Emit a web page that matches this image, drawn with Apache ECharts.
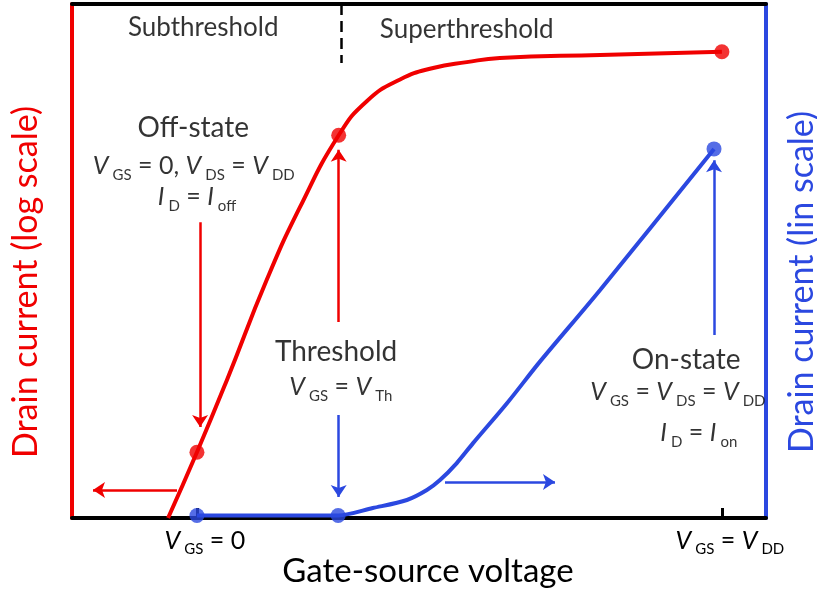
<!DOCTYPE html>
<html>
<head>
<meta charset="utf-8">
<title>MOSFET transfer characteristic</title>
<script src="https://cdn.jsdelivr.net/npm/echarts@6/dist/echarts.min.js"></script>
<style>
  html, body { margin: 0; padding: 0; background: #fff; }
  #chartBox { width: 817px; height: 593px; }
</style>
</head>
<body>
<div id="chartBox"></div>
<script>
// gate-source voltage in V (V_DD = 1 V)
var redVgs = [-0.055, 0.0, 0.057, 0.133, 0.196, 0.27, 0.324, 0.387, 0.45, 0.514, 0.577, 0.768, 1.0];
// drain current on the log axis, A
var redId = [1e-12, 1.9e-11, 4.8e-10, 4.3e-8, 1.1e-6, 2.8e-5, 1.3e-4, 3.4e-4, 5.7e-4, 7.4e-4, 8.9e-4, 1.02e-3, 1.18e-3];

var blueVgs = [0.0, 0.12, 0.269, 0.335, 0.400, 0.438, 0.463, 0.495, 0.526, 0.591, 0.653, 0.768, 0.985];
// drain current on the lin axis, mA
var blueId = [0.008, 0.008, 0.008, 0.031, 0.056, 0.087, 0.118, 0.171, 0.233, 0.358, 0.486, 0.710, 1.149];

// marked states: off, threshold, on
var redKeyVgs = [0.0, 0.27, 1.0];
var redKeyId = [1.9e-11, 2.8e-5, 1.18e-3];
var blueKeyVgs = [0.0, 0.269, 0.985];
var blueKeyId = [0.008, 0.008, 1.149];

var xTickValues = [0, 1];
var xTickLabels = ['{i|V}{s|GS}{n| = 0}', '{i|V}{s|GS}{n| = }{i|V}{s|DD}'];

// arrows [x1, y1, x2, y2] in (V, mA on lin axis)
var redArrows = [[0.006, 0.921, 0.006, 0.283], [0.27, 0.61, 0.27, 1.146], [-0.038, 0.087, -0.198, 0.087]];
var blueArrows = [[0.27, 0.321, 0.27, 0.065], [0.985, 0.57, 0.985, 1.114], [0.4725, 0.112, 0.682, 0.112]];
var thresholdLine = [[0.274, 1.6, 0.274, 1.416]];

// text notes [x, y, text] in (V, mA on lin axis)
var notes = [
  [0.012, 1.525, '{r|Subthreshold}'],
  [0.514, 1.519, '{r|Superthreshold}'],
  [-0.007, 1.214, '{t|Off-state}'],
  [-0.006, 1.096, '{i|V}{s|GS}{n| = 0, }{i|V}{s|DS}{n| = }{i|V}{s|DD}'],
  [0.0, 1.0, '{i|I}{s|D}{n| = }{i|I}{s|off}'],
  [0.265, 0.517, '{t|Threshold}'],
  [0.274, 0.408, '{i|V}{s|GS}{n| = }{i|V}{s|Th}'],
  [0.932, 0.492, '{t|On-state}'],
  [0.916, 0.392, '{i|V}{s|GS}{n| = }{i|V}{s|DS}{n| = }{i|V}{s|DD}'],
  [0.956, 0.265, '{i|I}{s|D}{n| = }{i|I}{s|on}']
];

var RED = '#f00000';
var BLUE = '#2b48e0';
var FONT = 'Lato';

var rich = {
  i: { fontFamily: FONT, fontStyle: 'italic', fontSize: 25, color: '#000' },
  n: { fontFamily: FONT, fontSize: 25, color: '#000' },
  s: { fontFamily: FONT, fontSize: 15, color: '#000', padding: [18, 0, 0, 4] },
  t: { fontFamily: FONT, fontSize: 28, color: '#000' },
  r: { fontFamily: FONT, fontSize: 26, color: '#000' }
};

function pairs(xs, ys) {
  return xs.map(function (x, i) { return [x, ys[i]]; });
}
function arrowData(list) {
  return list.map(function (a) { return { coords: [[a[0], a[1]], [a[2], a[3]]] }; });
}

var chart = echarts.init(document.getElementById('chartBox'));
var option = {
  animation: false,
  textStyle: { fontFamily: FONT },
  grid: { left: 72, right: 51, top: 4, bottom: 75, containLabel: false, outerBoundsMode: 'none' },
  xAxis: [{
    type: 'value', min: -0.238, max: 1.084,
    name: 'Gate-source voltage', nameLocation: 'middle', nameGap: 37, nameMoveOverlap: false,
    nameTextStyle: { fontSize: 33, color: '#000', fontFamily: FONT, padding: [0, 0, 0, 18] },
    axisLine: { show: true, onZero: false, lineStyle: { color: '#000', width: 4 } },
    axisTick: { show: true, inside: true, length: 10, customValues: xTickValues, lineStyle: { color: '#000', width: 3 } },
    axisLabel: {
      show: true, customValues: xTickValues, margin: 6, padding: [0, 0, 0, 16], rich: rich,
      formatter: function (v) { return xTickLabels[xTickValues.indexOf(v)]; }
    },
    splitLine: { show: false }
  }, {
    type: 'value', position: 'top', min: -0.238, max: 1.084,
    axisLine: { show: true, onZero: false, lineStyle: { color: '#000', width: 4 } },
    axisTick: { show: false }, axisLabel: { show: false }, splitLine: { show: false }
  }],
  yAxis: [{
    type: 'log', logBase: 10, min: 1e-12, max: 1e-2, position: 'left',
    name: 'Drain current (log scale)', nameLocation: 'middle', nameRotate: 90, nameGap: 29,
    nameTextStyle: { fontSize: 34, color: RED, fontFamily: FONT, padding: [0, 42, 0, 0] },
    axisLine: { show: true, onZero: false, lineStyle: { color: RED, width: 4 } },
    axisTick: { show: false }, axisLabel: { show: false }, splitLine: { show: false }
  }, {
    type: 'value', min: 0, max: 1.6, position: 'right',
    name: 'Drain current (lin scale)', nameLocation: 'middle', nameRotate: 90, nameGap: 19,
    nameTextStyle: { fontSize: 34, color: BLUE, fontFamily: FONT, padding: [0, 42, 0, 0] },
    axisLine: { show: true, onZero: false, lineStyle: { color: BLUE, width: 4 } },
    axisTick: { show: false }, axisLabel: { show: false }, splitLine: { show: false }
  }],
  series: [{
    name: 'log', type: 'line', xAxisIndex: 0, yAxisIndex: 0,
    data: pairs(redVgs, redId), smooth: 0.5, showSymbol: false, z: 3,
    lineStyle: { color: RED, width: 4 }
  }, {
    name: 'lin', type: 'line', xAxisIndex: 0, yAxisIndex: 1,
    data: pairs(blueVgs, blueId), smooth: 0.3, showSymbol: false, z: 3,
    lineStyle: { color: BLUE, width: 4 }
  }, {
    type: 'scatter', xAxisIndex: 0, yAxisIndex: 0, data: pairs(redKeyVgs, redKeyId),
    symbolSize: 15, itemStyle: { color: RED }, z: 5
  }, {
    type: 'scatter', xAxisIndex: 0, yAxisIndex: 1, data: pairs(blueKeyVgs, blueKeyId),
    symbolSize: 15, itemStyle: { color: BLUE }, z: 5
  }, {
    type: 'lines', coordinateSystem: 'cartesian2d', xAxisIndex: 0, yAxisIndex: 1,
    data: arrowData(redArrows), symbol: ['none', 'arrow'], symbolSize: 12, z: 4,
    lineStyle: { color: RED, width: 2.5, opacity: 1 }
  }, {
    type: 'lines', coordinateSystem: 'cartesian2d', xAxisIndex: 0, yAxisIndex: 1,
    data: arrowData(blueArrows), symbol: ['none', 'arrow'], symbolSize: 12, z: 4,
    lineStyle: { color: BLUE, width: 2.5, opacity: 1 }
  }, {
    type: 'lines', coordinateSystem: 'cartesian2d', xAxisIndex: 0, yAxisIndex: 1,
    data: arrowData(thresholdLine), symbol: 'none', z: 4,
    lineStyle: { color: '#000', width: 2.5, type: [11, 6], opacity: 1 }
  }, {
    type: 'scatter', xAxisIndex: 0, yAxisIndex: 1, silent: true, z: 6,
    data: notes.map(function (n) { return { value: [n[0], n[1]], name: n[2] }; }),
    symbolSize: 1, itemStyle: { color: 'rgba(0,0,0,0)' },
    label: { show: true, position: 'inside', formatter: '{b}', rich: rich }
  }]
};
chart.setOption(option);
</script>
</body>
</html>
